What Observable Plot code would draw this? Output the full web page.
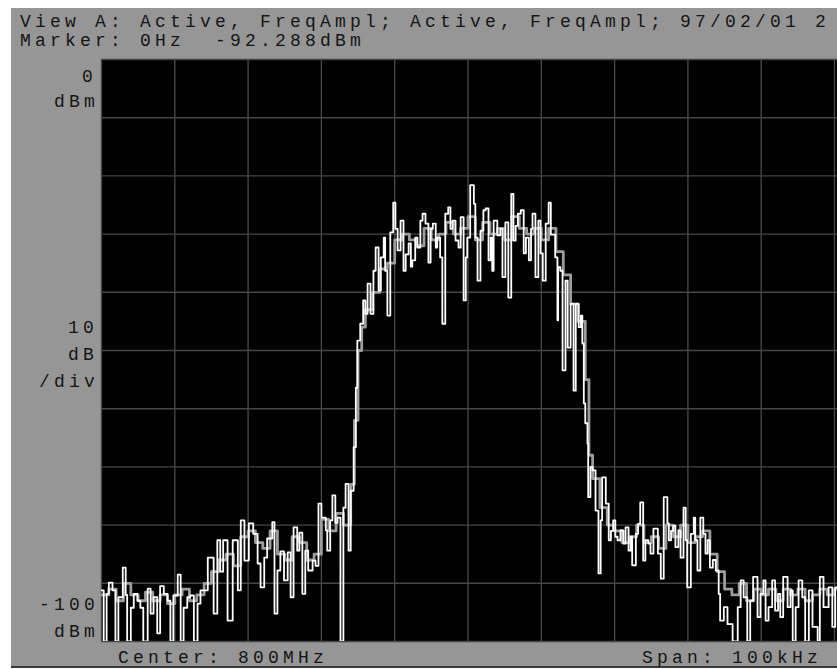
<!DOCTYPE html>
<html>
<head>
<meta charset="utf-8">
<script src="https://cdn.jsdelivr.net/npm/d3@7"></script>
<script src="https://cdn.jsdelivr.net/npm/@observablehq/plot@0.6"></script>
<style>
  html, body { margin: 0; padding: 0; background: #ffffff; overflow: hidden; }
  #page { position: relative; width: 837px; height: 669px; overflow: hidden; background: #ffffff; }
  #panel { position: absolute; left: 11px; top: 8px; width: 840px; height: 658px; background: #969696; }
  #bottomline { position: absolute; left: 11px; top: 666px; width: 840px; height: 2px; background: #3a3a3a; }
  #chart { position: absolute; left: 11px; top: 8px; }
  .t { position: absolute; font-family: "Liberation Mono", "DejaVu Sans Mono", monospace; font-size: 18px;
       letter-spacing: 4.2px; line-height: 17px; color: #151515; white-space: pre; }
  .r { text-align: right; width: 120px; }
</style>
</head>
<body>
<div id="page">
  <div id="panel"></div>
  <div id="bottomline"></div>
  <div id="chart"></div>
</div>
<script>
// ---- Data (frequency offset from 800 MHz centre in kHz, level in dBm) ----
const whiteF = [-50.0,-49.7,-49.3,-49.0,-48.5,-48.1,-47.7,-47.1,-46.7,-46.5,-46.0,-45.6,-45.1,-44.7,-44.3,-43.7,-43.3,-42.9,-42.4,-42.0,-41.5,-41.0,-40.6,-40.2,-39.6,-39.2,-38.8,-38.3,-37.9,-37.4,-36.9,-36.5,
  -35.5,-34.7,-34.2,-33.8,-33.4,-32.8,-32.1,-31.4,-31.0,-30.5,-29.9,-29.3,-28.7,-28.3,-27.8,-27.4,-26.7,-26.4,-26.0,-25.6,-25.1,-24.6,-24.2,-23.8,-23.3,
  -23.0,-22.6,-22.2,-21.8,-21.2,-20.8,-20.4,-20.0,-19.4,-19.2,-18.8,-18.5,-18.1,-17.8,-17.4,-17.0,-16.7,-16.3,-16.0,-15.6,-15.3,-15.1,-14.7,-14.3,-14.0,-13.7,-13.3,-12.9,-12.6,-12.2,-11.9,-11.5,-11.3,-11.0,-10.6,-10.2,-9.9,-9.6,-9.2,-8.8,-8.5,-8.1,-7.8,-7.6,-7.2,-6.9,-6.5,-6.2,-5.8,-5.4,-5.1,-4.8,-4.4,-4.2,-3.8,-3.5,-3.1,-2.7,-2.4,-2.1,-1.7,-1.3,-1.0,-0.6,-0.3,-0.1,0.3,0.8,1.0,1.3,1.7,2.1,
  2.4,2.8,3.1,3.3,3.5,4.0,4.4,4.7,5.1,5.5,5.9,6.2,6.5,6.8,7.2,7.6,7.9,8.3,8.6,8.8,9.2,9.6,9.9,10.2,10.6,11.0,11.3,11.9,12.2,12.3,12.6,12.9,13.3,13.6,14.0,14.4,14.7,15.1,15.4,15.6,15.8,16.0,16.3,16.4,16.7,17.0,17.4,17.8,18.1,18.3,18.8,19.2,19.5,19.8,20.1,20.4,20.8,21.2,21.5,21.9,22.2,22.4,22.9,23.2,23.5,23.9,24.2,24.6,24.9,25.3,25.9,26.3,26.7,27.2,
  27.4,27.7,28.0,28.3,28.7,29.0,29.4,29.7,29.9,30.4,30.8,31.0,31.3,31.7,32.1,32.4,32.7,33.0,33.4,33.8,34.2,34.4,34.9,35.4,36.1,36.8,37.2,37.6,38.1,38.5,38.9,39.5,39.9,40.3,40.6,41.0,41.5,41.9,42.3,42.6,43.0,43.6,44.0,44.3,44.7,45.1,45.6,46.0,46.5,47.0,47.7,48.0,48.5,49.2,49.7,50.1,50.4];
const whiteDb = [-91.2,-100,-91.8,-89.9,-91.2,-100,-92.4,-87.3,-92.0,-100,-94.2,-91.8,-93.0,-94.2,-100,-90.9,-95.2,-92.4,-98.6,-90.5,-91.8,-93.0,-100,-92.1,-88.5,-100,-94.2,-92.4,-92.1,-100,-93.5,-91.2,
  -85.6,-95.2,-82.6,-88.0,-82.6,-96.4,-82.6,-91.2,-79.2,-86.1,-79.7,-81.5,-86.6,-90.7,-85.6,-82.3,-79.5,-95.2,-87.8,-84.5,-89.5,-84.7,-92.4,-80.4,-84.4,
  -81.3,-91.8,-84.4,-87.8,-86.1,-87.0,-76.3,-78.7,-80.9,-84.4,-79.2,-74.9,-79.6,-78.7,-100,-77.0,-72.9,-84.4,-74.1,-66.6,-56.4,-48.3,-45.4,-41.4,-43.7,-38.5,-43.7,-36.3,-32.3,-39.7,-34.0,-30.6,-36.3,-44.0,-29.7,-24.6,-29.1,-32.8,-27.7,-36.3,-33.5,-31.6,-35.6,-34.5,-30.6,-32.3,-27.7,-26.5,-28.2,-34.9,-29.1,-28.2,-32.3,-30.6,-34.0,-45.4,-26.5,-25.4,-29.1,-27.7,-31.1,-32.3,-27.1,-41.4,-34.0,-30.6,-21.6,-24.8,-30.6,-38.0,-29.4,-25.9,
  -25.6,-34.5,-30.6,-36.3,-27.7,-30.2,-29.1,-37.4,-28.0,-40.9,-23.1,-31.1,-28.6,-26.5,-25.9,-33.3,-30.6,-34.5,-29.1,-26.5,-37.4,-27.7,-33.3,-38.0,-28.2,-24.6,-30.1,-34.0,-44.8,-35.7,-36.3,-53.4,-38.0,-49.5,-42.0,-56.9,-42.0,-46.0,-44.0,-48.8,-59.1,-62.5,-66.0,-75.2,-70.0,-70.6,-77.5,-88.3,-79.2,-71.8,-76.3,-82.6,-81.0,-79.2,-82.0,-82.6,-80.9,-83.2,-80.4,-84.4,-82.0,-86.9,-81.5,-79.8,-76.1,-86.1,-82.6,-83.2,-84.9,-80.6,-84.9,-89.2,-75.2,-79.7,
  -82.6,-81.0,-80.1,-83.8,-80.9,-85.6,-77.0,-82.6,-90.7,-81.5,-78.7,-82.6,-87.8,-78.7,-81.5,-84.9,-82.6,-87.3,-86.0,-87.8,-91.8,-96.4,-94.1,-97.0,-100,-94.1,-89.5,-92.4,-100,-93.0,-88.9,-95.8,-91.8,-89.5,-96.4,-94.1,-89.5,-94.7,-91.8,-95.8,-88.9,-94.1,-91.2,-100,-94.1,-89.5,-92.4,-100,-91.2,-97.5,-100,-88.9,-94.1,-90.7,-97.5,-90.7,-90.7];

const grayF = [-50,-49,-48,-47,-46,-45,-44,-43,-42,-41,-40,-39,-38,-37,-36,-35,-34,-33,-32,-31,-30,-29,-28,-27,-26,-25,-24,-23,-22,-21,-20,-19,-18,-17,-16,-15.5,-15,-14.5,-14,-13,-12,-11,-10,-9,-8,-7,-6,-5,-4,-3,-2,-1,0,1,2,3,4,5,6,7,8,9,10,11,12,13,14,15,16,16.5,17,18,19,20,21,22,23,24,25,26,27,28,29,30,31,32,33,34,35,36,37,38,39,40,41,42,43,44,45,46,47,48,49,50,50.4];
const grayDb = [-92,-91,-93,-90,-92,-93,-91.5,-93,-92,-93.5,-92,-91,-93,-92,-90,-88,-86,-85,-87,-82,-81,-83,-84,-81,-85,-86,-82,-83,-86,-85,-79,-81,-78,-80,-73,-62,-50,-46,-43,-40,-36,-35,-31,-30,-31,-32,-29,-31,-30,-28,-30,-29,-27,-31,-28,-30,-29,-31,-27,-29,-30,-29,-31,-29,-33,-37,-42,-45,-55,-68,-72,-77,-80,-81,-83,-82,-80,-83,-82,-84,-80,-82,-80,-83,-82,-81,-85,-88,-91,-92,-90,-93,-91,-92,-91,-93,-91,-92,-91,-93,-92,-91,-92,-91,-91];

const gridFreq = [-50,-40,-30,-20,-10,0,10,20,30,40,50];
const gridLevel = [-100,-90,-80,-70,-60,-50,-40,-30,-20,-10,0];

const headerLines = ["View A: Active, FreqAmpl; Active, FreqAmpl; 97/02/01 2", "Marker: 0Hz  -92.288dBm"];
const topLabel = ["0", "dBm"];
const midLabel = ["10", "dB", "/div"];
const bottomLabel = ["-100", "dBm"];
const centerText = "Center: 800MHz";
const spanText = "Span: 100kHz";

const white = whiteF.map((f, i) => ({f, db: whiteDb[i]}));
const gray = grayF.map((f, i) => ({f, db: grayDb[i]}));

const chart = Plot.plot({
  width: 826,
  height: 658,
  marginLeft: 90,
  marginRight: 0,
  marginTop: 51,
  marginBottom: 25,
  style: {background: "#969696", overflow: "visible"},
  x: {domain: [-50, 50.41], axis: null},
  y: {domain: [-100, 0], axis: null},
  marks: [
    Plot.frame({fill: "black", stroke: null}),
    Plot.gridX(gridFreq, {stroke: "#464646", strokeOpacity: 1, strokeWidth: 1.4}),
    Plot.gridY(gridLevel, {stroke: "#464646", strokeOpacity: 1, strokeWidth: 1.4}),
    Plot.line(gray, {x: "f", y: "db", curve: "step-after", stroke: "#9c9c9c", strokeWidth: 2.8, clip: true}),
    Plot.line(white, {x: "f", y: "db", curve: "step-after", stroke: "#ffffff", strokeWidth: 1.8, clip: true})
  ]
});
document.getElementById("chart").appendChild(chart);

// ---- Text (baseline positions in page pixels) ----
const page = document.getElementById("page");
function addText(str, baseline, opts) {
  const d = document.createElement("div");
  d.className = "t" + (opts.right != null ? " r" : "");
  d.textContent = str;
  d.style.top = (baseline - 13.5) + "px";
  if (opts.right != null) d.style.left = (opts.right - 120) + "px";
  else d.style.left = opts.left + "px";
  page.appendChild(d);
}
addText(headerLines[0], 27, {left: 20});
addText(headerLines[1], 46.5, {left: 20});
addText(topLabel[0], 82, {right: 97});
addText(topLabel[1], 107, {right: 99});
addText(midLabel[0], 333, {right: 98});
addText(midLabel[1], 360, {right: 98});
addText(midLabel[2], 387, {right: 99});
addText(bottomLabel[0], 610, {right: 99});
addText(bottomLabel[1], 637, {right: 99});
addText(centerText, 663, {left: 118});
addText(spanText, 663, {left: 642});
</script>
</body>
</html>
